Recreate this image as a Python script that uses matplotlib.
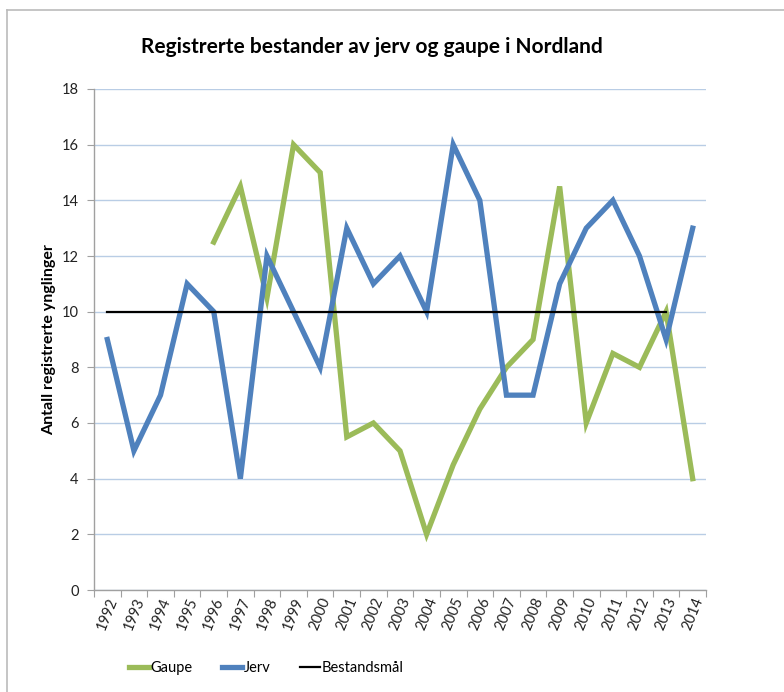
import matplotlib
matplotlib.use("Agg")
import matplotlib.pyplot as plt
from matplotlib.lines import Line2D
import numpy as np

years = [str(y) for y in range(1992, 2015)]
gaupe = [None, None, None, None, 12.5, 14.5, 10.5, 16, 15, 5.5, 6, 5, 2, 4.5, 6.5, 8, 9, 14.5, 6, 8.5, 8, 10, 4]
jerv = [9, 5, 7, 11, 10, 4, 12, 10, 8, 13, 11, 12, 10, 16, 14, 7, 7, 11, 13, 14, 12, 9, 13]
bestandsmal = [10] * 22 + [None]
yticks = list(range(0, 19, 2))

plt.rcParams['font.family'] = ['Lato', 'DejaVu Sans']

fig = plt.figure(figsize=(7.84, 6.92), dpi=100)
ax = fig.add_axes([94/784, 1-590/692, 612/784, 501/692])

x = np.arange(len(years))
g = np.array([np.nan if v is None else v for v in gaupe], dtype=float)
b = np.array([np.nan if v is None else v for v in bestandsmal], dtype=float)

green = '#9BBB59'
blue = '#4F81BD'
ax.plot(x, g, color=green, lw=3.8, solid_joinstyle='miter', zorder=3)
ax.plot(x, jerv, color=blue, lw=3.8, solid_joinstyle='miter', zorder=4)
ax.plot(x, b, color='black', lw=1.6, zorder=5)

ax.set_xlim(-0.5, len(years) - 0.5)
ax.set_ylim(0, 18)
ax.set_yticks(yticks)
ax.set_yticklabels([str(t) for t in yticks], fontsize=10.5, color='#222222')
ax.yaxis.grid(True, color='#B9CDE5', lw=1.0)
ax.set_axisbelow(True)

ax.set_xticks(np.arange(-0.5, len(years), 1.0))
ax.set_xticklabels([])
ax.set_xticks(x, minor=True)
ax.set_xticklabels(years, minor=True, rotation=68, fontsize=10.5, color='#222222',
                   ha='center', va='top')
ax.tick_params(axis='x', which='minor', length=0, pad=4)
ax.tick_params(axis='x', which='major', length=5, color='#A0A0A0', direction='out')
ax.tick_params(axis='y', length=5, color='#A0A0A0', direction='out', pad=6)

for s in ['top', 'right']:
    ax.spines[s].set_visible(False)
for s in ['left', 'bottom']:
    ax.spines[s].set_color('#A0A0A0')
    ax.spines[s].set_linewidth(1.0)

ax.set_ylabel('Antall registrerte ynglinger', fontsize=11.5, fontweight='bold', labelpad=4)

fig.text(372/784, 1-47/692, 'Registrerte bestander av jerv og gaupe i Nordland',
         fontsize=15, fontweight='bold', ha='center', va='center')

handles = [Line2D([], [], color=green, lw=3.8),
           Line2D([], [], color=blue, lw=3.8),
           Line2D([], [], color='black', lw=1.6)]
fig.legend(handles, ['Gaupe', 'Jerv', 'Bestandsmål'], loc='center',
           bbox_to_anchor=(266/784, 1-668/692), ncol=3, frameon=False,
           fontsize=10.5, handlelength=1.4, handletextpad=0.1, columnspacing=2.0)

# outer frame
fig.add_artist(Line2D([7/784, 7/784], [0, 1-10/692], color='#BBBBBB', lw=1.2,
                      transform=fig.transFigure))
fig.add_artist(Line2D([7/784, 1], [1-10/692, 1-10/692], color='#BBBBBB', lw=1.2,
                      transform=fig.transFigure))

fig.savefig('out.png', dpi=100)
